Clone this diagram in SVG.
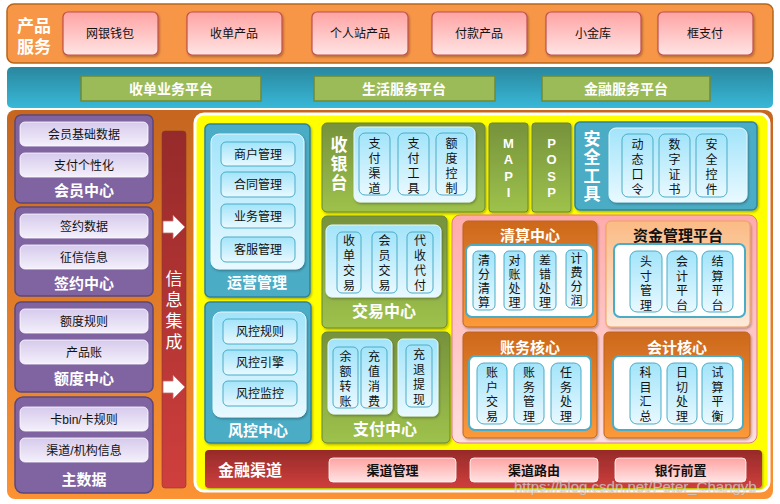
<svg xmlns="http://www.w3.org/2000/svg" width="780" height="504" viewBox="0 0 780 504">
<defs>
<linearGradient id="gPink" x1="0" y1="0" x2="0" y2="1"><stop offset="0" stop-color="#ffa3a3"/><stop offset="1" stop-color="#ffe4e4"/></linearGradient>
<linearGradient id="gBand" x1="0" y1="0" x2="0" y2="1"><stop offset="0" stop-color="#2a879e"/><stop offset="1" stop-color="#38b8d8"/></linearGradient>
<linearGradient id="gMain" x1="0" y1="0" x2="0" y2="1"><stop offset="0" stop-color="#c6661f"/><stop offset="1" stop-color="#fb9233"/></linearGradient>
<linearGradient id="gLav" x1="0" y1="0" x2="0" y2="1"><stop offset="0" stop-color="#d6caec"/><stop offset="1" stop-color="#f4f0fb"/></linearGradient>
<linearGradient id="gRed" x1="0" y1="0" x2="0" y2="1"><stop offset="0" stop-color="#962a2a"/><stop offset="1" stop-color="#cf3f3d"/></linearGradient>
<linearGradient id="gLB" x1="0" y1="0" x2="0" y2="1"><stop offset="0" stop-color="#a2e4fa"/><stop offset="1" stop-color="#e9f9ff"/></linearGradient>
<linearGradient id="gGreen" x1="0" y1="0" x2="0" y2="1"><stop offset="0" stop-color="#76923c"/><stop offset="1" stop-color="#9ec24c"/></linearGradient>
<linearGradient id="gPinkP" x1="0" y1="0" x2="0" y2="1"><stop offset="0" stop-color="#ffabab"/><stop offset="1" stop-color="#ffdede"/></linearGradient>
<linearGradient id="gOr" x1="0" y1="0" x2="0" y2="1"><stop offset="0" stop-color="#cc681c"/><stop offset="1" stop-color="#fc9a3a"/></linearGradient>
<linearGradient id="gPeach" x1="0" y1="0" x2="0" y2="1"><stop offset="0" stop-color="#fbbb85"/><stop offset="1" stop-color="#fde9db"/></linearGradient>
<filter id="sh" x="-10%" y="-10%" width="130%" height="130%"><feDropShadow dx="1" dy="1.5" stdDeviation="1" flood-color="#000" flood-opacity="0.3"/></filter>
</defs>
<style>
text{font-family:"Liberation Sans","Noto Sans CJK SC",sans-serif;}
.t{font-size:12px;fill:#111;text-anchor:middle;}
.tb{font-weight:bold;fill:#fff;text-anchor:middle;}
.prod{fill:url(#gPink);stroke:#c0504d;stroke-width:1.2;filter:url(#sh);}
.plat{fill:#9bbb59;stroke:#6e8a37;stroke-width:1.5;}
.pur{fill:#8064a2;stroke:#5c477a;stroke-width:1.5;}
.lav{fill:url(#gLav);stroke:#ffffff;stroke-width:0.8;}
.teal{fill:#4bacc6;stroke:#31829a;stroke-width:1.5;filter:url(#sh);}
.lb{fill:url(#gLB);stroke:#e6f8ff;stroke-width:1;filter:url(#sh);}
.it{fill:url(#gLB);stroke:#4bacc6;stroke-width:1;}
.grn{fill:url(#gGreen);stroke:#6a8632;stroke-width:1;filter:url(#sh);}
.orp{fill:url(#gOr);stroke:#c0651e;stroke-width:1;filter:url(#sh);}
.wh{fill:#fff;stroke:#4bacc6;stroke-width:2;}
.chi{fill:url(#gPink);stroke:#ffffff;stroke-width:0.8;}
</style>

<g id="product-band">
<rect x="7" y="4" width="766" height="59" rx="7" fill="#f79646" stroke="#b5651d" stroke-width="1.5"/>
<text class="tb" x="34" y="32" font-size="17">产品</text>
<text class="tb" x="34" y="53" font-size="17">服务</text>
</g>
<g id="p1"><rect class="prod" x="63" y="12" width="95" height="43" rx="5"/><text class="t" x="110" y="38">网银钱包</text></g>
<g id="p2"><rect class="prod" x="187" y="12" width="95" height="43" rx="5"/><text class="t" x="234" y="38">收单产品</text></g>
<g id="p3"><rect class="prod" x="312" y="12" width="96" height="43" rx="5"/><text class="t" x="360" y="38">个人站产品</text></g>
<g id="p4"><rect class="prod" x="432" y="12" width="95" height="43" rx="5"/><text class="t" x="479" y="38">付款产品</text></g>
<g id="p5"><rect class="prod" x="546" y="12" width="95" height="43" rx="5"/><text class="t" x="593" y="38">小金库</text></g>
<g id="p6"><rect class="prod" x="658" y="12" width="95" height="43" rx="5"/><text class="t" x="705" y="38">框支付</text></g>

<g id="platform-band">
<rect x="7" y="67" width="766" height="41" rx="5" fill="url(#gBand)"/>
<rect class="plat" x="81" y="76" width="180" height="25"/><text class="tb" x="171" y="94" font-size="14">收单业务平台</text>
<rect class="plat" x="314" y="76" width="181" height="25"/><text class="tb" x="404" y="94" font-size="14">生活服务平台</text>
<rect class="plat" x="542" y="76" width="168" height="25"/><text class="tb" x="626" y="94" font-size="14">金融服务平台</text>
</g>

<g id="main-container"><rect x="7" y="110" width="766" height="389" rx="8" fill="url(#gMain)"/></g>

<g id="member-center">
<rect class="pur" x="15" y="115" width="138" height="88" rx="6"/>
<rect class="lav" x="20" y="122" width="128" height="24" rx="5"/><text class="t" x="84" y="139">会员基础数据</text>
<rect class="lav" x="20" y="153" width="128" height="24" rx="5"/><text class="t" x="84" y="170">支付个性化</text>
<text class="tb" x="84" y="196" font-size="15">会员中心</text>
</g>
<g id="contract-center">
<rect class="pur" x="15" y="207" width="138" height="89" rx="6"/>
<rect class="lav" x="20" y="214" width="128" height="24" rx="5"/><text class="t" x="84" y="231">签约数据</text>
<rect class="lav" x="20" y="245" width="128" height="24" rx="5"/><text class="t" x="84" y="262">征信信息</text>
<text class="tb" x="84" y="289" font-size="15">签约中心</text>
</g>
<g id="quota-center">
<rect class="pur" x="15" y="302" width="138" height="90" rx="6"/>
<rect class="lav" x="20" y="309" width="128" height="24" rx="5"/><text class="t" x="84" y="326">额度规则</text>
<rect class="lav" x="20" y="340" width="128" height="24" rx="5"/><text class="t" x="84" y="357">产品账</text>
<text class="tb" x="84" y="384" font-size="15">额度中心</text>
</g>
<g id="master-data">
<rect class="pur" x="15" y="397" width="138" height="96" rx="8"/>
<rect class="lav" x="20" y="407" width="128" height="24" rx="5"/><text class="t" x="84" y="424">卡bin/卡规则</text>
<rect class="lav" x="20" y="438" width="128" height="24" rx="5"/><text class="t" x="84" y="455">渠道/机构信息</text>
<text class="tb" x="84" y="485" font-size="15">主数据</text>
</g>

<g id="info-integration">
<rect x="162" y="131" width="24" height="357" rx="3" fill="url(#gRed)" stroke="#8a3a2a" stroke-width="0.6"/>
<text x="174" y="285" font-size="17" fill="#fff" text-anchor="middle">信<tspan x="174" dy="21">息</tspan><tspan x="174" dy="21">集</tspan><tspan x="174" dy="21">成</tspan></text>
</g>
<g id="connectors">
<polygon points="163,221 173,221 173,215 185,227 173,239 173,233 163,233" fill="#fff" stroke="#c86a6a" stroke-width="0.8"/>
<polygon points="163,381 173,381 173,375 185,387 173,399 173,393 163,393" fill="#fff" stroke="#c86a6a" stroke-width="0.8"/>
</g>

<g id="core-container"><rect x="195" y="114" width="574" height="377" rx="9" fill="#ffff00" stroke="#ffffff" stroke-width="3"/></g>

<g id="ops-mgmt">
<rect class="teal" x="205" y="124" width="105" height="173" rx="5"/>
<rect class="lb" x="211" y="134" width="93" height="135" rx="8"/>
<rect class="it" x="221" y="142" width="74" height="24" rx="5"/><text class="t" x="258" y="159">商户管理</text>
<rect class="it" x="221" y="172" width="74" height="25" rx="5"/><text class="t" x="258" y="189">合同管理</text>
<rect class="it" x="221" y="204" width="74" height="24" rx="5"/><text class="t" x="258" y="221">业务管理</text>
<rect class="it" x="221" y="237" width="74" height="25" rx="5"/><text class="t" x="258" y="254">客服管理</text>
<text class="tb" x="257" y="288" font-size="15">运营管理</text>
</g>

<g id="risk-center">
<rect class="teal" x="205" y="302" width="106" height="141" rx="5"/>
<rect class="lb" x="213" y="312" width="93" height="105" rx="8"/>
<rect class="it" x="223" y="319" width="74" height="25" rx="5"/><text class="t" x="260" y="336">风控规则</text>
<rect class="it" x="223" y="350" width="74" height="25" rx="5"/><text class="t" x="260" y="367">风控引擎</text>
<rect class="it" x="223" y="381" width="74" height="25" rx="5"/><text class="t" x="260" y="398">风控监控</text>
<text class="tb" x="258" y="436" font-size="15">风控中心</text>
</g>

<g id="cashier">
<rect class="grn" x="322" y="123" width="163" height="89" rx="5"/>
<text class="tb" x="339" y="151" font-size="17">收<tspan x="339" dy="19">银</tspan><tspan x="339" dy="19">台</tspan></text>
<rect class="lb" x="354" y="127" width="121" height="75" rx="6"/>
<rect class="it" x="359" y="133" width="31" height="62" rx="6"/><text class="t" x="374.5" y="148">支<tspan x="374.5" dy="15">付</tspan><tspan x="374.5" dy="15">渠</tspan><tspan x="374.5" dy="15">道</tspan></text>
<rect class="it" x="398" y="133" width="31" height="62" rx="6"/><text class="t" x="413.5" y="148">支<tspan x="413.5" dy="15">付</tspan><tspan x="413.5" dy="15">工</tspan><tspan x="413.5" dy="15">具</tspan></text>
<rect class="it" x="436" y="133" width="31" height="62" rx="6"/><text class="t" x="451.5" y="148">额<tspan x="451.5" dy="15">度</tspan><tspan x="451.5" dy="15">控</tspan><tspan x="451.5" dy="15">制</tspan></text>
</g>

<g id="mapi">
<rect class="grn" x="489" y="123" width="39" height="89" rx="3"/>
<text class="tb" x="508.5" y="148" font-size="13">M<tspan x="508.5" dy="16.3">A</tspan><tspan x="508.5" dy="16.3">P</tspan><tspan x="508.5" dy="16.3">I</tspan></text>
</g>
<g id="posp">
<rect class="grn" x="532" y="123" width="39" height="89" rx="3"/>
<text class="tb" x="551.5" y="148" font-size="13">P<tspan x="551.5" dy="16.3">O</tspan><tspan x="551.5" dy="16.3">S</tspan><tspan x="551.5" dy="16.3">P</tspan></text>
</g>

<g id="security-tools">
<rect class="teal" x="575" y="122" width="182" height="88" rx="5"/>
<text class="tb" x="592" y="145" font-size="17">安<tspan x="592" dy="18.3">全</tspan><tspan x="592" dy="18.3">工</tspan><tspan x="592" dy="18.3">具</tspan></text>
<rect class="lb" x="609" y="128" width="138" height="74" rx="7"/>
<rect class="it" x="622" y="134" width="31" height="63" rx="6"/><text class="t" x="637.5" y="149">动<tspan x="637.5" dy="15">态</tspan><tspan x="637.5" dy="15">口</tspan><tspan x="637.5" dy="15">令</tspan></text>
<rect class="it" x="659" y="134" width="31" height="63" rx="6"/><text class="t" x="674.5" y="149">数<tspan x="674.5" dy="15">字</tspan><tspan x="674.5" dy="15">证</tspan><tspan x="674.5" dy="15">书</tspan></text>
<rect class="it" x="696" y="134" width="31" height="63" rx="6"/><text class="t" x="711.5" y="149">安<tspan x="711.5" dy="15">全</tspan><tspan x="711.5" dy="15">控</tspan><tspan x="711.5" dy="15">件</tspan></text>
</g>

<g id="trade-center">
<rect class="grn" x="322" y="216" width="125" height="112" rx="5"/>
<rect class="lb" x="326" y="225" width="115" height="72" rx="6"/>
<rect class="it" x="337" y="232" width="24" height="61" rx="5"/><text class="t" x="349" y="245">收<tspan x="349" dy="15">单</tspan><tspan x="349" dy="15">交</tspan><tspan x="349" dy="15">易</tspan></text>
<rect class="it" x="372" y="232" width="25" height="61" rx="5"/><text class="t" x="384.5" y="245">会<tspan x="384.5" dy="15">员</tspan><tspan x="384.5" dy="15">交</tspan><tspan x="384.5" dy="15">易</tspan></text>
<rect class="it" x="407" y="232" width="26" height="61" rx="5"/><text class="t" x="420" y="245">代<tspan x="420" dy="15">收</tspan><tspan x="420" dy="15">代</tspan><tspan x="420" dy="15">付</tspan></text>
<text class="tb" x="384" y="317" font-size="16">交易中心</text>
</g>

<g id="pay-center">
<rect class="grn" x="322" y="332" width="128" height="111" rx="5"/>
<rect class="lb" x="328" y="339" width="64" height="75" rx="6"/>
<rect class="it" x="333" y="347" width="25" height="61" rx="5"/><text class="t" x="345.5" y="361">余<tspan x="345.5" dy="15">额</tspan><tspan x="345.5" dy="15">转</tspan><tspan x="345.5" dy="15">账</tspan></text>
<rect class="it" x="361" y="347" width="26" height="61" rx="5"/><text class="t" x="374" y="361">充<tspan x="374" dy="15">值</tspan><tspan x="374" dy="15">消</tspan><tspan x="374" dy="15">费</tspan></text>
<rect class="lb" x="398" y="339" width="40" height="77" rx="5"/>
<rect class="it" x="406" y="345" width="26" height="62" rx="5"/><text class="t" x="419" y="359">充<tspan x="419" dy="15">退</tspan><tspan x="419" dy="15">提</tspan><tspan x="419" dy="15">现</tspan></text>
<text class="tb" x="385" y="435" font-size="16">支付中心</text>
</g>

<g id="settlement-area"><rect x="452" y="215" width="305" height="228" rx="8" fill="url(#gPinkP)" stroke="#e07a7a" stroke-width="1"/></g>

<g id="clearing-center">
<rect class="orp" x="463" y="221" width="134" height="106" rx="5"/>
<text class="tb" x="530" y="241" font-size="15">清算中心</text>
<rect class="wh" x="466" y="245" width="127" height="72" rx="6"/>
<rect class="it" x="473" y="251" width="22" height="59" rx="5"/><text class="t" x="484" y="265">清<tspan x="484" dy="14">分</tspan><tspan x="484" dy="14">清</tspan><tspan x="484" dy="14">算</tspan></text>
<rect class="it" x="504" y="251" width="21" height="59" rx="5"/><text class="t" x="514.5" y="265">对<tspan x="514.5" dy="14">账</tspan><tspan x="514.5" dy="14">处</tspan><tspan x="514.5" dy="14">理</tspan></text>
<rect class="it" x="534" y="251" width="22" height="59" rx="5"/><text class="t" x="545" y="265">差<tspan x="545" dy="14">错</tspan><tspan x="545" dy="14">处</tspan><tspan x="545" dy="14">理</tspan></text>
<rect class="it" x="566" y="250" width="21" height="58" rx="5"/><text class="t" x="576.5" y="263">计<tspan x="576.5" dy="14">费</tspan><tspan x="576.5" dy="14">分</tspan><tspan x="576.5" dy="14">润</tspan></text>
</g>

<g id="fund-platform">
<rect x="606" y="221" width="144" height="106" rx="5" fill="url(#gPeach)" stroke="#f0a060" stroke-width="1" filter="url(#sh)"/>
<text x="678" y="241" font-size="15" font-weight="bold" fill="#111" text-anchor="middle">资金管理平台</text>
<rect class="wh" x="614" y="244" width="131" height="73" rx="6"/>
<rect class="it" x="630" y="251" width="32" height="61" rx="7"/><text class="t" x="646" y="266">头<tspan x="646" dy="14.5">寸</tspan><tspan x="646" dy="14.5">管</tspan><tspan x="646" dy="14.5">理</tspan></text>
<rect class="it" x="667" y="251" width="30" height="61" rx="7"/><text class="t" x="682" y="266">会<tspan x="682" dy="14.5">计</tspan><tspan x="682" dy="14.5">平</tspan><tspan x="682" dy="14.5">台</tspan></text>
<rect class="it" x="702" y="251" width="31" height="61" rx="7"/><text class="t" x="717.5" y="266">结<tspan x="717.5" dy="14.5">算</tspan><tspan x="717.5" dy="14.5">平</tspan><tspan x="717.5" dy="14.5">台</tspan></text>
</g>

<g id="accounting-core">
<rect class="orp" x="463" y="332" width="134" height="106" rx="5"/>
<text class="tb" x="530" y="353" font-size="15">账务核心</text>
<rect class="wh" x="469" y="356" width="122" height="74" rx="6"/>
<rect class="it" x="477" y="363" width="30" height="61" rx="7"/><text class="t" x="492" y="377">账<tspan x="492" dy="14.5">户</tspan><tspan x="492" dy="14.5">交</tspan><tspan x="492" dy="14.5">易</tspan></text>
<rect class="it" x="514" y="363" width="30" height="61" rx="7"/><text class="t" x="529" y="377">账<tspan x="529" dy="14.5">务</tspan><tspan x="529" dy="14.5">管</tspan><tspan x="529" dy="14.5">理</tspan></text>
<rect class="it" x="551" y="363" width="30" height="61" rx="7"/><text class="t" x="566" y="377">任<tspan x="566" dy="14.5">务</tspan><tspan x="566" dy="14.5">处</tspan><tspan x="566" dy="14.5">理</tspan></text>
</g>

<g id="bookkeeping-core">
<rect class="orp" x="604" y="332" width="146" height="106" rx="5"/>
<text class="tb" x="677" y="353" font-size="15">会计核心</text>
<rect class="wh" x="613" y="356" width="130" height="74" rx="6"/>
<rect class="it" x="630" y="363" width="31" height="61" rx="7"/><text class="t" x="645.5" y="377">科<tspan x="645.5" dy="14.5">目</tspan><tspan x="645.5" dy="14.5">汇</tspan><tspan x="645.5" dy="14.5">总</tspan></text>
<rect class="it" x="667" y="363" width="30" height="61" rx="7"/><text class="t" x="682" y="377">日<tspan x="682" dy="14.5">切</tspan><tspan x="682" dy="14.5">处</tspan><tspan x="682" dy="14.5">理</tspan></text>
<rect class="it" x="702" y="363" width="31" height="61" rx="7"/><text class="t" x="717.5" y="377">试<tspan x="717.5" dy="14.5">算</tspan><tspan x="717.5" dy="14.5">平</tspan><tspan x="717.5" dy="14.5">衡</tspan></text>
</g>

<g id="finance-channel">
<rect x="205" y="450" width="557" height="38" rx="4" fill="url(#gRed)" filter="url(#sh)"/>
<text class="tb" x="250" y="476" font-size="16">金融渠道</text>
<rect class="chi" x="329" y="458" width="127" height="24" rx="4"/><text x="392.5" y="475" font-size="13" font-weight="bold" fill="#111" text-anchor="middle">渠道管理</text>
<rect class="chi" x="470" y="458" width="128" height="24" rx="4"/><text x="534" y="475" font-size="13" font-weight="bold" fill="#111" text-anchor="middle">渠道路由</text>
<rect class="chi" x="615" y="458" width="131" height="24" rx="4"/><text x="680.5" y="475" font-size="13" font-weight="bold" fill="#111" text-anchor="middle">银行前置</text>
</g>

<g id="watermark">
<text x="514" y="492" font-size="15" fill="#ffffff" fill-opacity="0.6" stroke="#9a9a9a" stroke-opacity="0.6" stroke-width="0.5">https://blog.csdn.net/Peter_Changyb</text>
</g>
</svg>
